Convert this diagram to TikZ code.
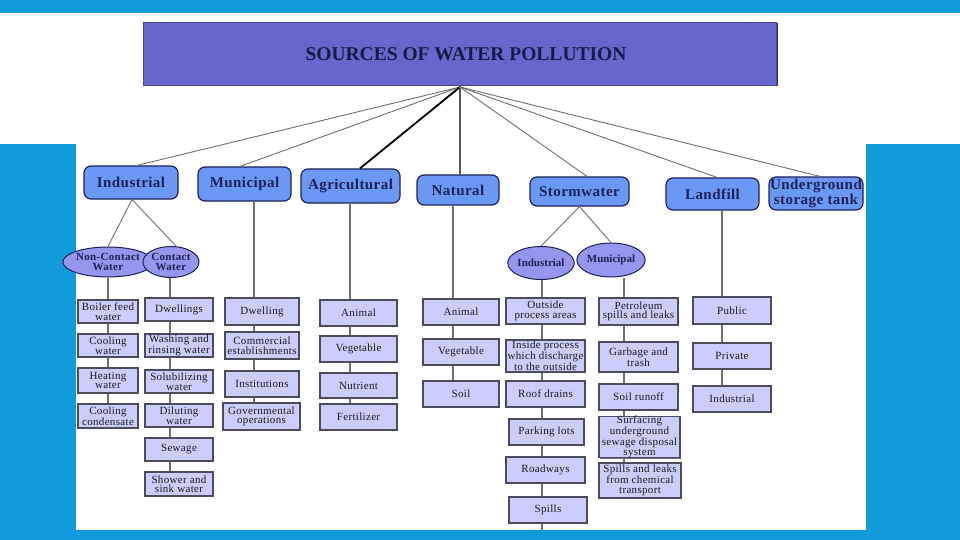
\documentclass[tikz,border=0pt]{standalone}
\usepackage{fontspec}
\setmainfont{Liberation Serif}
\newfontfamily\leaffont{Liberation Serif}[LetterSpace=3]
\newfontfamily\catfont{Liberation Serif}[LetterSpace=3]
\usetikzlibrary{shapes.geometric,shadows}
\definecolor{bgblue}{RGB}{17,155,219}
\definecolor{titlefill}{RGB}{102,102,204}
\definecolor{catfill}{RGB}{108,152,245}
\definecolor{ellfill}{RGB}{150,150,238}
\definecolor{leaffill}{RGB}{204,204,255}
\definecolor{navy}{RGB}{28,34,88}
\definecolor{edgegray}{RGB}{75,75,90}
\definecolor{linegray}{RGB}{110,110,115}
\begin{document}
\begin{tikzpicture}[x=1pt,y=-1pt,
  titlebox/.style={rectangle, fill=titlefill, draw=titlefill!70!black, line width=0.8pt,
    drop shadow={shadow xshift=1.5pt, shadow yshift=-1.5pt, fill=navy, opacity=0.9}},
  cat/.style={rectangle, rounded corners=7pt, fill=catfill, draw=navy, line width=1.2pt,
    inner sep=0pt, font=\catfont\fontsize{15}{12}\selectfont\bfseries, text=navy, align=center},
  ell/.style={ellipse, fill=ellfill, draw=navy, line width=1pt, inner sep=0pt,
    font=\catfont\fontsize{11}{10.5}\selectfont\bfseries, text=navy, align=center},
  sell/.style={ell, font=\fontsize{11}{10}\selectfont\bfseries},
  leaf/.style={rectangle, fill=leaffill, draw=edgegray, line width=1.1pt, inner sep=0pt,
    drop shadow={shadow xshift=0.8pt, shadow yshift=-0.8pt, fill=edgegray, opacity=0.8},
    font=\leaffont\fontsize{11}{9.5}\selectfont, text=black!90, align=center},
  hubline/.style={draw=linegray, line width=0.9pt},
  colline/.style={draw=linegray, line width=1.3pt},
]
\useasboundingbox (0,0) rectangle (960,540);
% background
\fill[bgblue] (0,0) rectangle (960,540);
\fill[white] (0,13) rectangle (960,144);
\fill[white] (76,144) rectangle (866,530);

% title
\node[titlebox, minimum width=633pt, minimum height=63pt] (title) at (459.5,53.5) {};
\node[font=\fontsize{19.5}{19.5}\selectfont\bfseries, text=navy!80!black, inner sep=0pt] (ttext) at (466,54) {SOURCES OF WATER POLLUTION};
\coordinate (hub) at (460,87);

% categories
\node[cat, minimum width=94pt, minimum height=33pt] (ind) at (131,182.5) {Industrial};
\node[cat, minimum width=93pt, minimum height=34pt] (mun) at (244.5,184) {Municipal};
\node[cat, minimum width=99pt, minimum height=34pt] (agr) at (350.5,186) {Agricultural};
\node[cat, minimum width=82pt, minimum height=30pt] (nat) at (458,190) {Natural};
\node[cat, minimum width=99pt, minimum height=29pt] (sto) at (579.5,191.5) {Stormwater};
\node[cat, minimum width=93pt, minimum height=32pt] (lan) at (712.5,194) {Landfill};
\node[cat, minimum width=94pt, minimum height=33pt] (und) at (816,193.5) {Underground\\storage tank};

% hub lines
\draw[hubline] (hub) -- ([xshift=6pt]ind.north);
\draw[hubline] (hub) -- ([xshift=-4.5pt]mun.north);
\draw[draw=black, line width=1.8pt] (hub) -- ([xshift=9.5pt]agr.north);
\draw[draw=linegray!80!black, line width=1.8pt] (hub) -- ([xshift=2pt]nat.north);
\draw[hubline] (hub) -- ([xshift=7.5pt]sto.north);
\draw[hubline] (hub) -- ([xshift=4.5pt]lan.north);
\draw[hubline] (hub) -- ([xshift=4pt]und.north);

% ellipses
\node[ell, minimum width=57pt, minimum height=30pt] (nc) at (108,262) {Non-Contact\\Water};
\node[ell, minimum width=56pt, minimum height=31pt] (cw) at (171,262) {Contact\\Water};
\node[sell, minimum width=58pt, minimum height=33pt] (si) at (541,263) {Industrial};
\node[sell, minimum width=57pt, minimum height=34pt] (sm) at (611,260) {Municipal};
\draw[hubline] ([xshift=1pt]ind.south) -- (nc.north);
\draw[hubline] ([xshift=1pt]ind.south) -- ([xshift=5pt]cw.north);
\draw[hubline] (sto.south) -- (si.north);
\draw[hubline] (sto.south) -- (sm.north);

% column A
\node[leaf, minimum width=60pt, minimum height=23pt] (a1) at (108,311.5) {Boiler feed\\water};
\node[leaf, minimum width=60pt, minimum height=23pt] (a2) at (108,345.5) {Cooling\\water};
\node[leaf, minimum width=60pt, minimum height=25pt] (a3) at (108,380.5) {Heating\\water};
\node[leaf, minimum width=60pt, minimum height=24pt] (a4) at (108,416) {Cooling\\condensate};
% column B
\node[leaf, minimum width=68pt, minimum height=23pt] (b1) at (179,309.5) {Dwellings};
\node[leaf, minimum width=68pt, minimum height=23pt] (b2) at (179,345.5) {Washing and\\rinsing water};
\node[leaf, minimum width=68pt, minimum height=23pt] (b3) at (179,381.5) {Solubilizing\\water};
\node[leaf, minimum width=68pt, minimum height=23pt] (b4) at (179,415.5) {Diluting\\water};
\node[leaf, minimum width=68pt, minimum height=23pt] (b5) at (179,449.5) {Sewage};
\node[leaf, minimum width=68pt, minimum height=24pt] (b6) at (179,484) {Shower and\\sink water};
% column C
\node[leaf, minimum width=74pt, minimum height=27pt] (c1) at (262,311.5) {Dwelling};
\node[leaf, minimum width=74pt, minimum height=27pt] (c2) at (262,345.5) {Commercial\\establishments};
\node[leaf, minimum width=74pt, minimum height=26pt] (c3) at (262,384) {Institutions};
\node[leaf, minimum width=77pt, minimum height=27pt] (c4) at (261.5,416.5) {Governmental\\operations};
% column D
\node[leaf, minimum width=77pt, minimum height=26pt] (d1) at (358.5,313) {Animal};
\node[leaf, minimum width=77pt, minimum height=26pt] (d2) at (358.5,349) {Vegetable};
\node[leaf, minimum width=77pt, minimum height=25pt] (d3) at (358.5,385.5) {Nutrient};
\node[leaf, minimum width=77pt, minimum height=26pt] (d4) at (358.5,417) {Fertilizer};
% column E
\node[leaf, minimum width=76pt, minimum height=26pt] (e1) at (461,312) {Animal};
\node[leaf, minimum width=76pt, minimum height=26pt] (e2) at (461,352) {Vegetable};
\node[leaf, minimum width=76pt, minimum height=26pt] (e3) at (461,394) {Soil};
% column F
\node[leaf, minimum width=79pt, minimum height=26pt] (f1) at (545.5,311) {Outside\\process areas};
\node[leaf, minimum width=79pt, minimum height=32pt] (f2) at (545.5,356) {Inside process\\which discharge\\to the outside};
\node[leaf, minimum width=79pt, minimum height=26pt] (f3) at (545.5,394) {Roof drains};
\node[leaf, minimum width=75pt, minimum height=26pt] (f4) at (546.5,432) {Parking lots};
\node[leaf, minimum width=79pt, minimum height=26pt] (f5) at (545.5,470) {Roadways};
\node[leaf, minimum width=78pt, minimum height=26pt] (f6) at (548,510) {Spills};
% column G
\node[leaf, minimum width=79pt, minimum height=27pt] (g1) at (638.5,311.5) {Petroleum\\spills and leaks};
\node[leaf, minimum width=79pt, minimum height=30pt] (g2) at (638.5,357) {Garbage and\\trash};
\node[leaf, minimum width=79pt, minimum height=26pt] (g3) at (638.5,397) {Soil runoff};
\node[leaf, minimum width=81pt, minimum height=40pt] (g4) at (639.5,437) {Surfacing\\underground\\sewage disposal\\system};
\node[leaf, minimum width=82pt, minimum height=35pt] (g5) at (640,480.5) {Spills and leaks\\from chemical\\transport};
% column H
\node[leaf, minimum width=78pt, minimum height=27pt] (h1) at (732,310.5) {Public};
\node[leaf, minimum width=78pt, minimum height=26pt] (h2) at (732,356) {Private};
\node[leaf, minimum width=78pt, minimum height=26pt] (h3) at (732,399) {Industrial};

% column line x positions
\coordinate (xA) at (108,0);
\coordinate (xB) at (170,0);
\coordinate (xC) at (254,0);
\coordinate (xD) at (350,0);
\coordinate (xE) at (453,0);
\coordinate (xF) at (542,0);
\coordinate (xG) at (624,0);
\coordinate (xH) at (722,0);
\coordinate (fend) at (542,530);

\draw[colline] (xA |- nc.south) -- (xA |- a1.north);
\draw[colline] (xA |- a1.south) -- (xA |- a2.north);
\draw[colline] (xA |- a2.south) -- (xA |- a3.north);
\draw[colline] (xA |- a3.south) -- (xA |- a4.north);
\draw[colline] (xB |- cw.south) -- (xB |- b1.north);
\draw[colline] (xB |- b1.south) -- (xB |- b2.north);
\draw[colline] (xB |- b2.south) -- (xB |- b3.north);
\draw[colline] (xB |- b3.south) -- (xB |- b4.north);
\draw[colline] (xB |- b4.south) -- (xB |- b5.north);
\draw[colline] (xB |- b5.south) -- (xB |- b6.north);
\draw[colline] (xC |- mun.south) -- (xC |- c1.north);
\draw[colline] (xC |- c1.south) -- (xC |- c2.north);
\draw[colline] (xC |- c2.south) -- (xC |- c3.north);
\draw[colline] (xC |- c3.south) -- (xC |- c4.north);
\draw[colline] (xD |- agr.south) -- (xD |- d1.north);
\draw[colline] (xD |- d1.south) -- (xD |- d2.north);
\draw[colline] (xD |- d2.south) -- (xD |- d3.north);
\draw[colline] (xD |- d3.south) -- (xD |- d4.north);
\draw[colline] (xE |- nat.south) -- (xE |- e1.north);
\draw[colline] (xE |- e1.south) -- (xE |- e2.north);
\draw[colline] (xE |- e2.south) -- (xE |- e3.north);
\draw[colline] (xF |- si.south) -- (xF |- f1.north);
\draw[colline] (xF |- f1.south) -- (xF |- f2.north);
\draw[colline] (xF |- f2.south) -- (xF |- f3.north);
\draw[colline] (xF |- f3.south) -- (xF |- f4.north);
\draw[colline] (xF |- f4.south) -- (xF |- f5.north);
\draw[colline] (xF |- f5.south) -- (xF |- f6.north);
\draw[colline] (xF |- f6.south) -- (fend);
\draw[colline] (xG |- sm.south) -- (xG |- g1.north);
\draw[colline] (xG |- g1.south) -- (xG |- g2.north);
\draw[colline] (xG |- g2.south) -- (xG |- g3.north);
\draw[colline] (xG |- g3.south) -- (xG |- g4.north);
\draw[colline] (xG |- g4.south) -- (xG |- g5.north);
\draw[colline] (xH |- lan.south) -- (xH |- h1.north);
\draw[colline] (xH |- h1.south) -- (xH |- h2.north);
\draw[colline] (xH |- h2.south) -- (xH |- h3.north);
\end{tikzpicture}
\end{document}
